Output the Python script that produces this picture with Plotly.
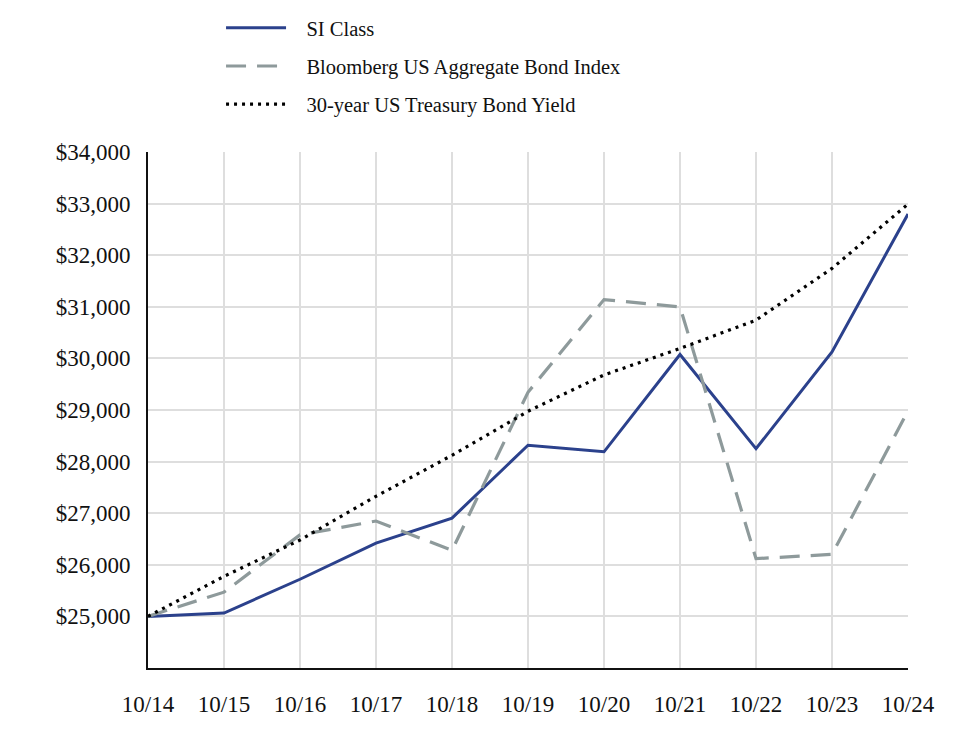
import plotly.graph_objects as go

periods = ["10/14", "10/15", "10/16", "10/17", "10/18", "10/19", "10/20", "10/21", "10/22", "10/23", "10/24"]
si_class = [25000, 25065, 25720, 26420, 26905, 28316, 28190, 30075, 28250, 30126, 32797]
bloomberg = [25000, 25470, 26580, 26848, 26280, 29344, 31140, 30999, 26120, 26202, 28982]
treasury = [25000, 25776, 26480, 27327, 28122, 28976, 29680, 30192, 30741, 31744, 32990]
y_ticks = [25000, 26000, 27000, 28000, 29000, 30000, 31000, 32000, 33000, 34000]
y_labels = ["$" + f"{v:,}" for v in y_ticks]

FONT = "Liberation Serif, Times New Roman, serif"
xs = list(range(len(periods)))
PAD = "\u00a0\u00a0\u00a0"

fig = go.Figure()
fig.add_trace(go.Scatter(x=xs, y=si_class, mode="lines", name=PAD + "SI Class", legendgroup="a",
                         line=dict(color="#2B418C", width=3), cliponaxis=False))
fig.add_trace(go.Scatter(x=xs, y=bloomberg, mode="lines", name=PAD + "Bloomberg US Aggregate Bond Index",
                         legendgroup="b", line=dict(color="#8E9A9B", width=3.2, dash="20px,11px"),
                         cliponaxis=False))
fig.add_trace(go.Scatter(x=xs, y=treasury, mode="lines", name=PAD + "30-year US Treasury Bond Yield",
                         legendgroup="c", line=dict(color="#000000", width=3.2, dash="3px,5px"),
                         cliponaxis=False))

fig.update_layout(
    width=964, height=740,
    margin=dict(l=140, r=64, t=144, b=80, autoexpand=False),
    paper_bgcolor="white", plot_bgcolor="white",
    font=dict(family=FONT, size=23, color="#111111"),
    showlegend=True,
    legend=dict(x=0.221, y=1.0, xref="container", yref="container", xanchor="left", yanchor="top",
                font=dict(family=FONT, size=20.5, color="#111111"),
                tracegroupgap=8.5, traceorder="grouped", itemwidth=60,
                bgcolor="rgba(0,0,0,0)"),
    xaxis=dict(range=[0, 10], tickvals=xs, ticktext=periods, showgrid=True,
               gridcolor="#DEDEDE", gridwidth=1.5, showline=True, linecolor="#111111",
               linewidth=2, ticks="", ticklabelstandoff=14, zeroline=False, tickangle=0,
               tickfont=dict(family=FONT, size=23, color="#111111")),
    yaxis=dict(range=[24000, 34000], tickvals=y_ticks, ticktext=y_labels, showgrid=True,
               gridcolor="#DEDEDE", gridwidth=1.5, showline=True, linecolor="#111111",
               linewidth=2, ticks="", ticklabelstandoff=11, zeroline=False,
               tickfont=dict(family=FONT, size=23, color="#111111")),
)

fig.write_html("out.html")
